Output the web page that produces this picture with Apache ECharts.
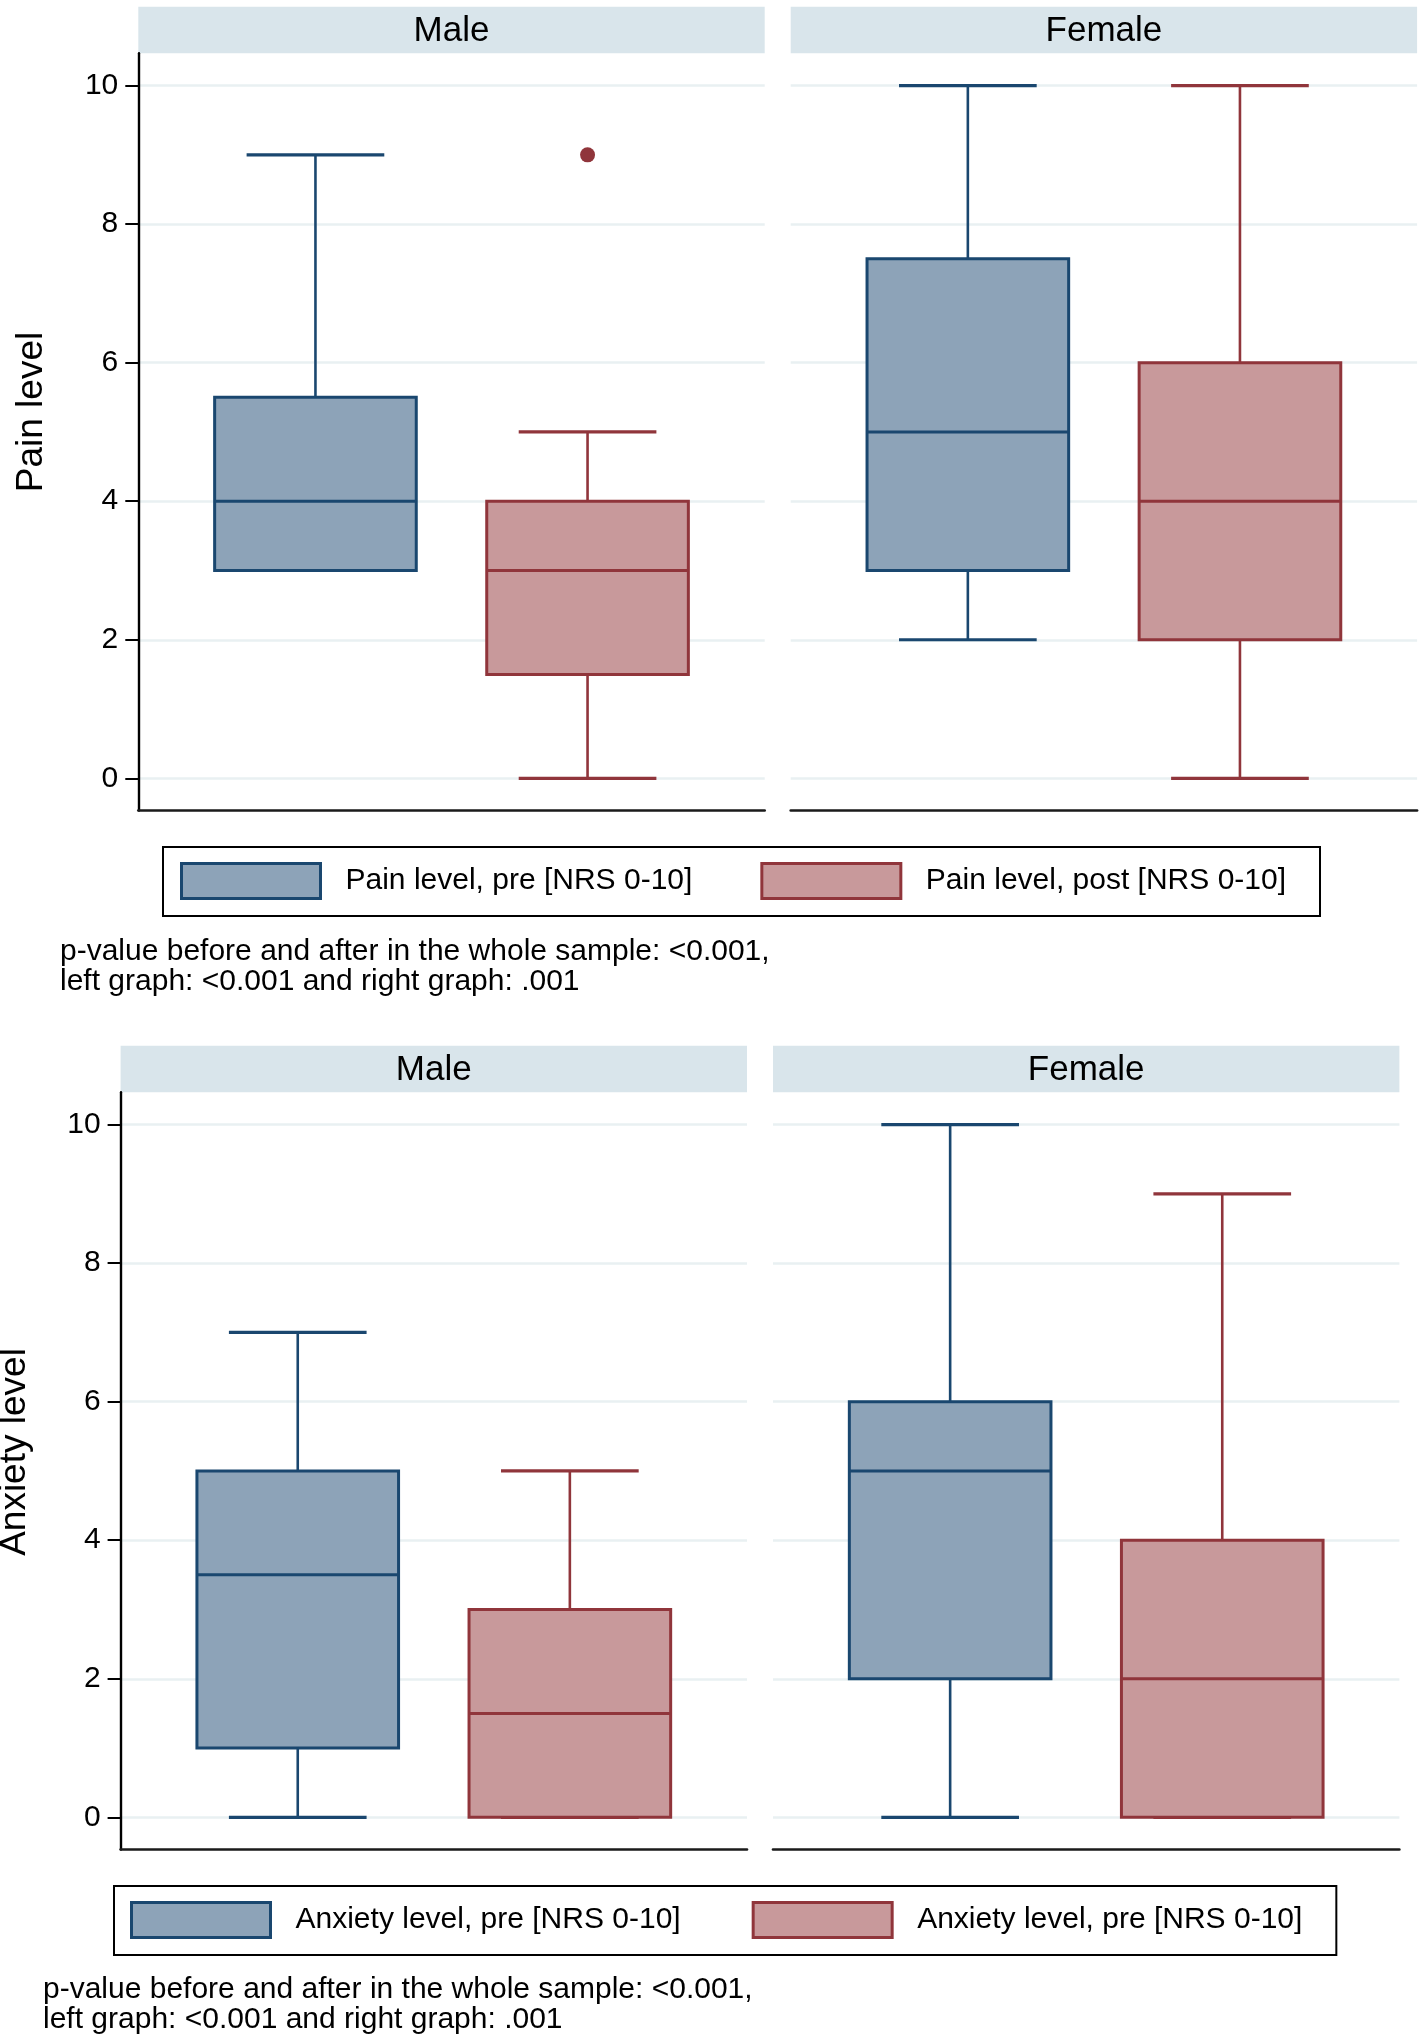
<!DOCTYPE html>
<html><head><meta charset="utf-8">
<script src="https://cdn.jsdelivr.net/npm/echarts@6/dist/echarts.min.js"></script>
<style>html,body{margin:0;padding:0;background:#fff}#c{width:1424px;height:2034px}</style>
</head><body><div id="c"></div>
<script>
// ---------------- data ----------------
const categories = ['pre', 'post'];
const panelNames = ['Male', 'Female'];
const yTicks = [0, 2, 4, 6, 8, 10];
// each box: [lower whisker, Q1, median, Q3, upper whisker]
const painMalePre = [3, 3, 4, 5.5, 9];
const painMalePost = [0, 1.5, 3, 4, 5];
const painFemalePre = [2, 3, 5, 7.5, 10];
const painFemalePost = [0, 2, 4, 6, 10];
const painMaleOutliers = [['post', 9]];
const painFemaleOutliers = [];
const anxMalePre = [0, 1, 3.5, 5, 7];
const anxMalePost = [0, 0, 1.5, 3, 5];
const anxFemalePre = [0, 2, 5, 6, 10];
const anxFemalePost = [0, 0, 2, 4, 9];
const anxMaleOutliers = [];
const anxFemaleOutliers = [];
const painSeriesNames = ['Pain level, pre [NRS 0-10]', 'Pain level, post [NRS 0-10]'];
const anxSeriesNames = ['Anxiety level, pre [NRS 0-10]', 'Anxiety level, post [NRS 0-10]'];
const anxLegendLabels = ['Anxiety level, pre [NRS 0-10]', 'Anxiety level, pre [NRS 0-10]'];
const painYTitle = 'Pain level';
const anxYTitle = 'Anxiety level';
const noteText = ['p-value before and after in the whole sample: <0.001,', 'left graph: <0.001 and right graph: .001'];

// ---------------- style / layout ----------------
const FONT = '"Liberation Sans", Arial, Helvetica, sans-serif';
const NAVY = '#1A476F', NAVY_FILL = '#8DA3B8';
const MAROON = '#90353B', MAROON_FILL = '#C8999B';
const STRIP = '#D9E5EB', GRID = '#E9F0F2';
const PANEL_X = [138.3, 790.7], PANEL_W = 626.4;
const STRIP_TOP = 6.7, STRIP_H = 46.6, PLOT_TOP = 53.3, Y10 = 85.6, Y0 = 778.3, AXIS_BOTTOM = 810.5;
const BOX_INSET = 41.1;
const BOX_FRAC = 0.741, CAP_FRAC = 0.506;
const figures = [
  {dx: 0, dy: 0, title: painYTitle, titleX: 32, titleY: 412, names: painSeriesNames,
   boxes: [[painMalePre, painMalePost], [painFemalePre, painFemalePost]],
   outliers: [painMaleOutliers, painFemaleOutliers],
   legend: {left: 163, top: 847, padding: [15, 34, 16, 17], itemGap: 68, labels: painSeriesNames},
   note: {x: 60, y: 936.5}},
  {dx: -17.7, dy: 1039, title: anxYTitle, titleX: 14.5, titleY: 1452, names: anxSeriesNames,
   boxes: [[anxMalePre, anxMalePost], [anxFemalePre, anxFemalePost]],
   outliers: [anxMaleOutliers, anxFemaleOutliers],
   legend: {left: 114, top: 1886, padding: [15, 34, 16, 16], itemGap: 71, labels: anxLegendLabels},
   note: {x: 43, y: 1974.5}}
];

function makeRender(stroke, fill) {
  return function (params, api) {
    const x = api.value(0);
    const pLo = api.coord([x, api.value(1)]);
    const pQ1 = api.coord([x, api.value(2)]);
    const pMed = api.coord([x, api.value(3)]);
    const pQ3 = api.coord([x, api.value(4)]);
    const pHi = api.coord([x, api.value(5)]);
    const band = api.size([1, 0])[0];
    const bw = band * BOX_FRAC, cw = band * CAP_FRAC;
    const cx = pMed[0];
    const wl = {stroke: stroke, lineWidth: 2.6, fill: null};
    const cl = {stroke: stroke, lineWidth: 3.2, fill: null};
    return {type: 'group', children: [
      {type: 'line', shape: {x1: cx, y1: pQ3[1], x2: cx, y2: pHi[1]}, style: wl},
      {type: 'line', shape: {x1: cx - cw / 2, y1: pHi[1], x2: cx + cw / 2, y2: pHi[1]}, style: cl},
      {type: 'line', shape: {x1: cx, y1: pQ1[1], x2: cx, y2: pLo[1]}, style: wl},
      {type: 'line', shape: {x1: cx - cw / 2, y1: pLo[1], x2: cx + cw / 2, y2: pLo[1]}, style: cl},
      {type: 'rect', shape: {x: cx - bw / 2, y: pQ3[1], width: bw, height: pQ1[1] - pQ3[1]}, style: {fill: fill, stroke: stroke, lineWidth: 3}},
      {type: 'line', shape: {x1: cx - bw / 2, y1: pMed[1], x2: cx + bw / 2, y2: pMed[1]}, style: {stroke: stroke, lineWidth: 3}}
    ]};
  };
}

const grid = [], xAxis = [], yAxis = [], series = [], graphic = [], legend = [];
const strokes = [NAVY, MAROON], fills = [NAVY_FILL, MAROON_FILL];

figures.forEach(function (fig, fi) {
  panelNames.forEach(function (pname, pi) {
    const x0 = PANEL_X[pi] + fig.dx;
    const base = grid.length;
    const isLeft = pi === 0;
    // frame grid (axis lines)
    grid.push({left: x0, top: PLOT_TOP + fig.dy, width: PANEL_W, height: AXIS_BOTTOM - PLOT_TOP});
    xAxis.push({gridIndex: base, type: 'value', min: 0, max: 1,
      axisLine: {show: true, onZero: false, lineStyle: {color: '#1a1a1a', width: 2.6}},
      axisTick: {show: false}, axisLabel: {show: false}, splitLine: {show: false}});
    yAxis.push({gridIndex: base, type: 'value', min: 0, max: 1,
      axisLine: {show: isLeft, onZero: false, lineStyle: {color: '#000', width: 2.4}},
      axisTick: {show: false}, axisLabel: {show: false}, splitLine: {show: false}});
    // tick grid (labels + gridlines)
    grid.push({left: x0, top: Y10 + fig.dy, width: PANEL_W, height: Y0 - Y10});
    xAxis.push({gridIndex: base + 1, type: 'value', show: false, min: 0, max: 1});
    yAxis.push({gridIndex: base + 1, type: 'value', min: 0, max: 10, interval: 2,
      axisLine: {show: false},
      axisTick: {show: isLeft, length: 13, customValues: yTicks, lineStyle: {color: '#000', width: 2}},
      axisLabel: {show: isLeft, customValues: yTicks, margin: 20, fontSize: 30, color: '#000', fontFamily: FONT},
      splitLine: {show: true, lineStyle: {color: GRID, width: 2.5}}});
    // box grid
    grid.push({left: x0 + BOX_INSET, top: Y10 + fig.dy, width: PANEL_W - 2 * BOX_INSET, height: Y0 - Y10});
    xAxis.push({gridIndex: base + 2, type: 'category', data: categories, show: false});
    yAxis.push({gridIndex: base + 2, type: 'value', min: 0, max: 10, show: false});
    fig.boxes[pi].forEach(function (b, ci) {
      series.push({type: 'custom', name: fig.names[ci], xAxisIndex: base + 2, yAxisIndex: base + 2,
        renderItem: makeRender(strokes[ci], fills[ci]),
        itemStyle: {color: fills[ci], borderColor: strokes[ci]},
        encode: {x: 0, y: [1, 2, 3, 4, 5]},
        data: [[ci].concat(b)], z: 3});
    });
    if (fig.outliers[pi].length) {
      series.push({type: 'scatter', xAxisIndex: base + 2, yAxisIndex: base + 2,
        symbol: 'circle', symbolSize: 15, itemStyle: {color: MAROON, opacity: 1},
        data: fig.outliers[pi], z: 4});
    }
    // strip
    graphic.push({type: 'rect', shape: {x: x0, y: STRIP_TOP + fig.dy, width: PANEL_W, height: STRIP_H},
      style: {fill: STRIP}, silent: true});
    graphic.push({type: 'text', x: x0 + PANEL_W / 2, y: STRIP_TOP + fig.dy + STRIP_H / 2 + 1,
      style: {text: pname, fill: '#000', font: '35px ' + FONT, align: 'center', verticalAlign: 'middle',
        textAlign: 'center', textVerticalAlign: 'middle'}, silent: true});
  });
  // y title
  graphic.push({type: 'text', x: fig.titleX, y: fig.titleY, rotation: Math.PI / 2,
    style: {text: fig.title, fill: '#000', font: '37px ' + FONT, align: 'center', verticalAlign: 'middle',
      textAlign: 'center', textVerticalAlign: 'middle'}, silent: true});
  // note
  graphic.push({type: 'text', x: fig.note.x, y: fig.note.y,
    style: {text: noteText.join('\n'), fill: '#000', font: '30px ' + FONT, lineHeight: 30,
      align: 'left', verticalAlign: 'top', textAlign: 'left', textVerticalAlign: 'top'}, silent: true});
  // legend
  const labels = fig.legend.labels;
  legend.push({left: fig.legend.left, top: fig.legend.top, orient: 'horizontal',
    padding: fig.legend.padding, itemGap: fig.legend.itemGap, itemWidth: 139, itemHeight: 35,
    borderColor: '#000', borderWidth: 2, selectedMode: false, icon: 'rect',
    textStyle: {fontSize: 30, color: '#000', fontFamily: FONT, padding: [0, 0, 0, 20]},
    formatter: function (name) { return labels[fig.names.indexOf(name)]; },
    data: fig.names.map(function (n, i) {
      return {name: n, itemStyle: {color: fills[i], borderColor: strokes[i], borderWidth: 3}};
    })});
});

const chart = echarts.init(document.getElementById('c'), null, {renderer: 'canvas'});
chart.setOption({animation: false, backgroundColor: '#fff', grid: grid, xAxis: xAxis, yAxis: yAxis,
  series: series, graphic: graphic, legend: legend});
</script></body></html>
